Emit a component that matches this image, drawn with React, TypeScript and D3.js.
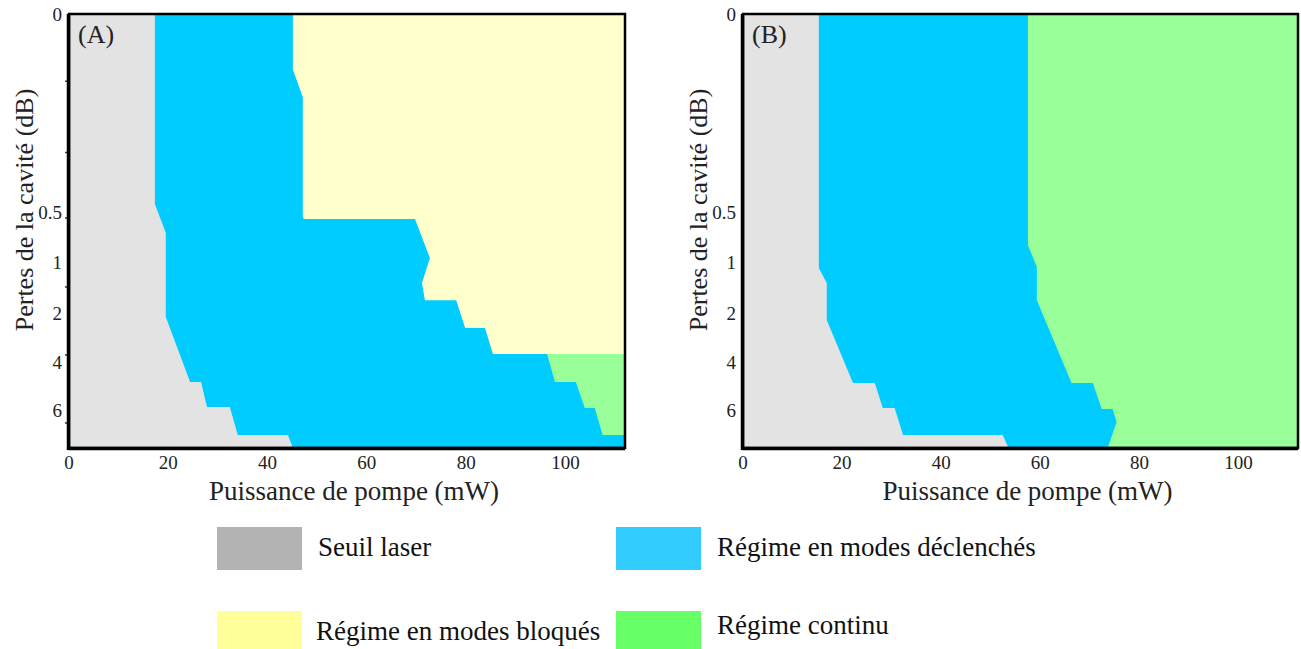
import React from "react";
import * as d3 from "d3";

// axes
const powerMax = 112;
const lossMax = 7.6;
const xTicks = [0, 20, 40, 60, 80, 100];
const yTicks = [0, 0.5, 1, 2, 4, 6];
const yBreaks = [0, 0.5, 1, 2, 4, 6, lossMax];
const yMinorA = [0.17, 0.35, 0.56, 1.49, 3.71, 6.55];

// region boundaries, [pump power (mW), cavity losses (dB)]
const laserThresholdA = [
  [17.3, 0], [17.3, 0.48], [19.5, 0.71], [19.5, 2.16], [24.4, 4.83],
  [26.6, 4.83], [27.8, 5.88], [32.4, 5.88], [34.0, 7.05], [44.1, 7.05],
  [45.1, lossMax],
];
const modeLockedA = [
  [45.1, 0], [45.1, 0.14], [47.1, 0.21], [47.1, 0.56], [47.5, 0.57],
  [69.7, 0.57], [72.7, 0.96], [71.1, 1.41], [71.7, 1.75], [78.0, 1.75],
  [79.8, 2.61], [83.8, 2.61], [85.4, 3.67], [powerMax, 3.67],
];
const continuousA = [
  [96.3, 3.67], [97.9, 4.83], [102.1, 4.83], [103.9, 5.92], [105.9, 5.92],
  [107.5, 7.05], [powerMax, 7.05],
];
const laserThresholdB = [
  [15.3, 0], [15.3, 1.12], [16.9, 1.41], [16.9, 2.29], [22.2, 4.875],
  [26.6, 4.875], [28.2, 5.92], [30.6, 5.92], [32.3, 7.05], [52.4, 7.05],
  [53.6, lossMax],
];
const continuousB = [
  [57.5, 0], [57.5, 0.83], [59.3, 1.1], [59.3, 1.75], [66.3, 4.875],
  [70.6, 4.875], [72.4, 5.96], [74.6, 5.96], [75.4, 6.5], [73.6, lossMax],
];

const legendItems = [
  { label: "Seuil laser", color: "#b3b3b3" },
  { label: "Régime en modes déclenchés", color: "#33ccff" },
  { label: "Régime en modes bloqués", color: "#ffff99" },
  { label: "Régime continu", color: "#66ff66" },
];

const C = {
  gray: "#e3e3e3",
  blue: "#00ccff",
  yellow: "#ffffcc",
  green: "#99ff99",
};

const FONT = "'Liberation Serif', 'DejaVu Serif', serif";

function Panel({ left, width, tag, minor, regions }: any) {
  const top = 14;
  const height = 434;
  const x = d3.scaleLinear().domain([0, powerMax]).range([0, width]);
  const y = d3
    .scaleLinear()
    .domain(yBreaks)
    .range([0, 198, 248, 299, 348, 396, height]);
  const line = d3
    .line<number[]>()
    .x((d) => x(d[0]))
    .y((d) => y(d[1]));

  return (
    <g transform={`translate(${left},${top})`}>
      <rect x={x(0)} y={y(0)} width={x(powerMax)} height={y(lossMax)} fill={C.blue} />
      {regions.map((r: any, i: number) => (
        <path key={i} d={line(r.pts) + "Z"} fill={r.color} />
      ))}

      {/* cadre */}
      <rect x={0} y={0} width={width} height={height} fill="none" stroke="#000" strokeWidth={2.5} />
      <line x1={-1} x2={width} y1={height + 0.5} y2={height + 0.5} stroke="#000" strokeWidth={3.5} />
      <line x1={-0.5} x2={-0.5} y1={0} y2={height + 2} stroke="#000" strokeWidth={3.5} />

      {minor.map((t: number) => (
        <line key={t} x1={-4} x2={-2} y1={y(t)} y2={y(t)} stroke="#333" strokeWidth={1.5} />
      ))}

      <g fontFamily={FONT} fontSize={19} fill="#222">
        {xTicks.map((t) => (
          <text key={t} x={x(t)} y={height + 21} textAnchor="middle">
            {t}
          </text>
        ))}
        {yTicks.map((t) => (
          <text key={t} x={-7} y={y(t)} dy="0.35em" textAnchor="end">
            {t}
          </text>
        ))}
      </g>

      <text x={9} y={29} fontFamily={FONT} fontSize={26} fill="#222">
        {tag}
      </text>
      <text
        x={width / 2 + 7}
        y={height + 52}
        textAnchor="middle"
        fontFamily={FONT}
        fontSize={27}
        fill="#222"
      >
        Puissance de pompe (mW)
      </text>
      <text
        transform={`translate(${-36},${196}) rotate(-90)`}
        textAnchor="middle"
        fontFamily={FONT}
        fontSize={26}
        fill="#222"
      >
        Pertes de la cavité (dB)
      </text>
    </g>
  );
}

export default function App() {
  const corner = (pts: number[][], extra: number[][]) => [...pts, ...extra];
  const regionsA = [
    { color: C.gray, pts: corner([[0, 0]], corner(laserThresholdA, [[0, lossMax]])) },
    { color: C.yellow, pts: corner(modeLockedA, [[powerMax, 0]]) },
    { color: C.green, pts: corner(continuousA, [[powerMax, 3.67]]) },
  ];
  const regionsB = [
    { color: C.gray, pts: corner([[0, 0]], corner(laserThresholdB, [[0, lossMax]])) },
    { color: C.green, pts: corner(continuousB, [[powerMax, lossMax], [powerMax, 0]]) },
  ];

  const legendX = [217, 616];
  const legendY = [527, 611];
  const baseY = [[556, 556], [640, 634]];

  return (
    <svg
      width={1301}
      height={649}
      style={{ position: "absolute", left: 0, top: 0, background: "#fff" }}
    >
      <Panel left={69} width={556} tag="(A)" minor={yMinorA} regions={regionsA} />
      <Panel left={743} width={555} tag="(B)" minor={[]} regions={regionsB} />

      <g fontFamily={FONT} fontSize={27} fill="#111">
        {legendItems.map((d, i) => {
          const col = i % 2;
          const row = Math.floor(i / 2);
          return (
            <g key={d.label}>
              <rect x={legendX[col]} y={legendY[row]} width={85} height={43} fill={d.color} />
              <text x={legendX[col] + 101 + (row === 1 && col === 0 ? -2 : 0)} y={baseY[row][col]}>
                {d.label}
              </text>
            </g>
          );
        })}
      </g>
    </svg>
  );
}
